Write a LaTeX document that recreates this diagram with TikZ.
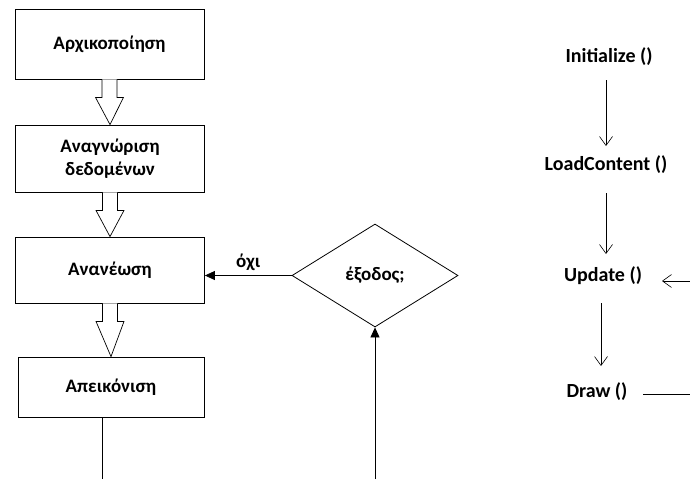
\documentclass[tikz,border=0pt]{standalone}
\usepackage{fontspec}
\setmainfont{Carlito}
\usetikzlibrary{shapes.geometric,arrows.meta,calc}
\begin{document}
\begin{tikzpicture}[x=1pt,y=-1pt,
  box/.style={draw,line width=0.8pt,minimum width=189pt,align=center,font=\bfseries\fontsize{19}{23}\selectfont,inner sep=0pt},
  lbl/.style={font=\bfseries\fontsize{19}{22}\selectfont,inner sep=1pt},
  rlbl/.style={font=\bfseries\fontsize{20}{22}\selectfont,inner sep=1pt},
  fat/.style={draw,line width=0.7pt,fill=white},
  conn/.style={line width=0.8pt,-{Triangle[length=10pt,width=9pt]}},
  thin/.style={line width=0.7pt,-{Straight Barb[length=9pt,width=13pt,line width=0.6pt]}}]
\useasboundingbox (0,0) rectangle (690,479);
\node[box,minimum height=70pt] (b1) at (109.5,44) {Αρχικοποίηση};
\node[box,minimum height=67pt] (b2) at (110,158.5) {Αναγνώριση\\δεδομένων};
\node[box,minimum height=66pt] (b3) at (110,270) {Ανανέωση};
\node[box,minimum height=60pt,minimum width=186pt] (b4) at (111,387) {Απεικόνιση};
\node[diamond,draw,line width=0.8pt,minimum width=166pt,minimum height=103pt,inner sep=0pt,font=\bfseries\fontsize{19}{22}\selectfont] (d) at (375,275.5) {έξοδος;};
% hollow arrows
\foreach \a/\b in {b1/b2,b2/b3,b3/b4}{
  \path let \p1=(\a.south), \p2=(\b.north) in
    coordinate (s) at (\x1,\y1) coordinate (e) at (\x2,\y2);
  \draw[fat] ($(s)+(-7.5,0)$) -- ($(s)+(-7.5,18)$) -- ($(s)+(-14,18)$) -- (e)
     -- ($(s)+(14,18)$) -- ($(s)+(7.5,18)$) -- ($(s)+(7.5,0)$);
}
\coordinate (bot1) at (102,479);
\coordinate (bot2) at (375,479);
\draw[line width=0.8pt] (b4.south -| bot1) -- (bot1);
\draw[conn] (bot2) -- (d.south);
\draw[conn] (d.west) -- (d.west -| b3.east) node[lbl,midway,above=3pt] {όχι};
% right side
\node[rlbl] (i) at (609,57) {Initialize ()};
\node[rlbl] (l) at (606,165) {LoadContent ()};
\node[rlbl] (u) at (603,276) {Update ()};
\node[rlbl] (dr) at (597,392) {Draw ()};
\coordinate (r1) at (690,281);
\coordinate (r2) at (690,394);
\coordinate (ds) at (643,394);
\draw[thin] (606,80) -- (606,146);
\draw[thin] (606,193) -- (606,254);
\draw[thin] (601,303) -- (601,366);
\draw[thin] (r1) -- (662,281);
\draw[line width=0.7pt] (ds) -- (r2);
\end{tikzpicture}
\end{document}
